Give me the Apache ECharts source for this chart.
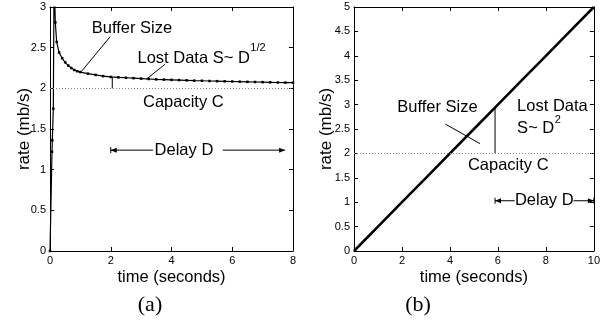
<!DOCTYPE html>
<html>
<head>
<meta charset="utf-8">
<script src="https://cdn.jsdelivr.net/npm/echarts@6/dist/echarts.min.js"></script>
<style>
  html, body { margin: 0; padding: 0; background: #fff; }
  #chart { width: 603px; height: 322px; }
</style>
</head>
<body>
<div id="chart"></div>
<script>
// (a) rate settles down toward capacity
const timeA = [0, 0.066, 0.076, 0.109, 0.135, 0.175, 0.22, 0.30, 0.40, 0.50, 0.60, 0.70, 0.80, 0.90, 1.00,
  1.25, 1.50, 1.75, 2.00, 2.25, 2.50, 2.75, 3.00, 3.25, 3.50, 3.75, 4.00, 4.25, 4.50, 4.75, 5.00,
  5.25, 5.50, 5.75, 6.00, 6.25, 6.50, 6.75, 7.00, 7.25, 7.50, 7.75, 8.00];
const rateA = [0, 1.22, 1.36, 1.75, 3.4, 2.81, 2.57, 2.44, 2.37, 2.32, 2.28, 2.25, 2.225, 2.21, 2.20,
  2.18, 2.165, 2.15, 2.14, 2.135, 2.13, 2.125, 2.12, 2.115, 2.11, 2.107, 2.104, 2.101, 2.098, 2.095, 2.093,
  2.09, 2.088, 2.086, 2.084, 2.082, 2.08, 2.078, 2.076, 2.074, 2.072, 2.071, 2.07];

// (b) rate grows linearly
const timeB = [0, 1, 2, 3, 4, 5, 6, 7, 8, 9, 10];
const rateB = [0, 0.5, 1, 1.5, 2, 2.5, 3, 3.5, 4, 4.5, 5];

const capacity = 2;
const xTicksA = [0, 8, 2];   // min, max, step
const yTicksA = [0, 3, 0.5];
const xTicksB = [0, 10, 2];
const yTicksB = [0, 5, 0.5];

const FONT = "Liberation Sans";
const BIG = "16.5px " + FONT;
const SMALL = "11px " + FONT;
const chart = echarts.init(document.getElementById("chart"));

function boxAxes(gridIndex, xt, yt, yGap) {
  const line = { show: true, onZero: false, lineStyle: { color: "#000", width: 1 } };
  const tick = { show: true, inside: true, length: 4, lineStyle: { color: "#000" } };
  const lab = { color: "#000", fontSize: 11, fontFamily: FONT, margin: 4 };
  return {
    x: [
      { gridIndex, type: "value", min: xt[0], max: xt[1], interval: xt[2], position: "bottom",
        axisLine: line, axisTick: tick, axisLabel: lab, splitLine: { show: false },
        name: "time (seconds)", nameLocation: "middle", nameGap: 18, nameMoveOverlap: false,
        nameTextStyle: { color: "#000", fontSize: 16.5, fontFamily: FONT } },
      { gridIndex, type: "value", min: xt[0], max: xt[1], interval: xt[2], position: "top",
        axisLine: line, axisTick: tick, axisLabel: { show: false }, splitLine: { show: false } }
    ],
    y: [
      { gridIndex, type: "value", min: yt[0], max: yt[1], interval: yt[2], position: "left",
        axisLine: line, axisTick: tick, axisLabel: lab, splitLine: { show: false },
        name: "rate (mb/s)", nameLocation: "middle", nameGap: yGap, nameMoveOverlap: false,
        nameTextStyle: { color: "#000", fontSize: 17, fontFamily: FONT } },
      { gridIndex, type: "value", min: yt[0], max: yt[1], interval: yt[2], position: "right",
        axisLine: line, axisTick: tick, axisLabel: { show: false }, splitLine: { show: false } }
    ]
  };
}

const axA = boxAxes(0, xTicksA, yTicksA, 17);
const axB = boxAxes(1, xTicksB, yTicksB, 19);

const capLine = {
  silent: true, symbol: "none", label: { show: false },
  lineStyle: { color: "#888", type: [1, 2], width: 1 },
  data: [{ yAxis: capacity }]
};

chart.setOption({
  animation: false,
  backgroundColor: "#fff",
  grid: [
    { left: 50, top: 7, width: 243, height: 244 },
    { left: 354, top: 7, width: 244, height: 244 }
  ],
  xAxis: [...axA.x, ...axB.x],
  yAxis: [...axA.y, ...axB.y],
  series: [
    {
      type: "line", xAxisIndex: 0, yAxisIndex: 0,
      data: timeA.map((t, i) => [t, rateA[i]]),
      symbol: "rect", symbolSize: 2.5, showSymbol: true,
      itemStyle: { color: "#000" }, lineStyle: { color: "#000", width: 1.2 },
      markLine: capLine
    },
    {
      type: "line", xAxisIndex: 2, yAxisIndex: 2,
      data: timeB.map((t, i) => [t, rateB[i]]),
      symbol: "none",
      lineStyle: { color: "#000", width: 2.6 },
      markLine: capLine
    }
  ]
});

// annotations, placed in data coordinates of each panel
const ctx = document.createElement("canvas").getContext("2d");
function textWidth(s, font) { ctx.font = font; return ctx.measureText(s).width; }
function px(g, p) { return chart.convertToPixel({ gridIndex: g }, p); }
const gfx = [];
function text(g, p, s, opt) {
  const q = px(g, p);
  gfx.push({ type: "text", x: q[0], y: q[1], silent: true,
    style: Object.assign({ text: s, fill: "#000", font: BIG, align: "center", verticalAlign: "middle" }, opt || {}) });
  return q;
}
// text with a superscript right after it
function supText(g, p, s, sup, rise) {
  const q = text(g, p, s, { align: "left" });
  gfx.push({ type: "text", x: q[0] + textWidth(s, BIG) + 0.5, y: q[1] - rise, silent: true,
    style: { text: sup, fill: "#000", font: SMALL, align: "left", verticalAlign: "middle" } });
}
function seg(g, a, b) {
  const p = px(g, a), q = px(g, b);
  gfx.push({ type: "line", silent: true, shape: { x1: p[0], y1: p[1], x2: q[0], y2: q[1] },
    style: { stroke: "#000", lineWidth: 1 } });
}
function head(g, p, dir, bar) {
  const q = px(g, p);
  gfx.push({ type: "polygon", silent: true,
    shape: { points: [[q[0], q[1]], [q[0] - dir * 6, q[1] - 2.5], [q[0] - dir * 6, q[1] + 2.5]] },
    style: { fill: "#000" } });
  if (bar) gfx.push({ type: "line", silent: true, shape: { x1: q[0], y1: q[1] - 3, x2: q[0], y2: q[1] + 3 },
    style: { stroke: "#000", lineWidth: 1 } });
}

// panel (a)
text(0, [2.7, 2.74], "Buffer Size");
seg(0, [1.98, 2.635], [1.04, 2.21]);
supText(0, [2.88, 2.373], "Lost Data S~ D", "1/2", 10);
seg(0, [3.79, 2.296], [3.16, 2.11]);
seg(0, [2.05, 2.0], [2.05, 2.14]);
text(0, [4.39, 1.823], "Capacity C");
text(0, [4.41, 1.24], "Delay D");
seg(0, [2.0, 1.24], [3.39, 1.24]);
seg(0, [5.69, 1.24], [7.74, 1.24]);
head(0, [2.0, 1.24], -1, true);
head(0, [7.74, 1.24], 1, false);

// panel (b)
text(1, [3.48, 2.95], "Buffer Size");
seg(1, [3.81, 2.60], [5.25, 2.2]);
seg(1, [5.88, 2.0], [5.88, 2.94]);
text(1, [6.8, 2.97], "Lost Data", { align: "left" });
supText(1, [6.8, 2.52], "S~ D", "2", 8);
text(1, [6.43, 1.76], "Capacity C");
text(1, [7.93, 1.03], "Delay D");
seg(1, [5.88, 1.03], [6.7, 1.03]);
seg(1, [9.15, 1.03], [10, 1.03]);
head(1, [5.88, 1.03], -1, true);
head(1, [10, 1.03], 1, true);

// captions
gfx.push({ type: "text", x: 150, y: 305, silent: true,
  style: { text: "(a)", fill: "#000", font: "22px 'Liberation Serif'", align: "center", verticalAlign: "middle" } });
gfx.push({ type: "text", x: 418, y: 305, silent: true,
  style: { text: "(b)", fill: "#000", font: "22px 'Liberation Serif'", align: "center", verticalAlign: "middle" } });

chart.setOption({ graphic: gfx });
</script>
</body>
</html>
